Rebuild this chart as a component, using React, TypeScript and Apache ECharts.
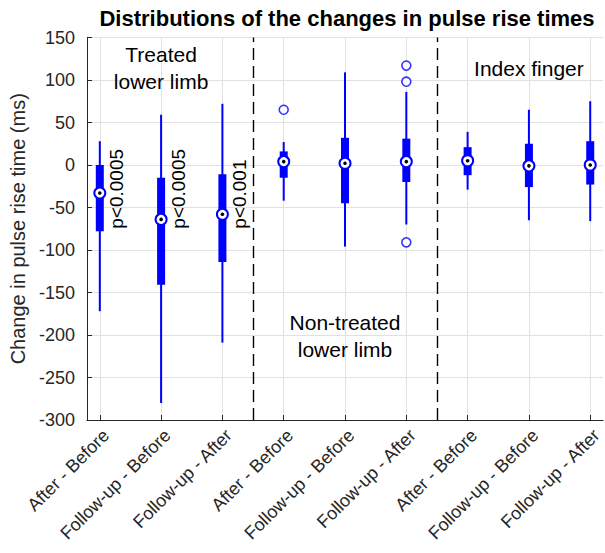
import React, { useEffect, useRef } from "react";
import * as echarts from "echarts";

const categories = [
  "After - Before", "Follow-up - Before", "Follow-up - After",
  "After - Before", "Follow-up - Before", "Follow-up - After",
  "After - Before", "Follow-up - Before", "Follow-up - After",
];
const positions = [1, 2, 3, 4, 5, 6, 7, 8, 9];
const whiskerLow = [-172, -280, -209, -42, -96, -70, -29, -65, -66];
const q1 = [-78, -141, -114, -15, -45, -20, -12, -26, -23];
const medians = [-33, -64, -58, 4, 2, 4, 5, -1, 0];
const q3 = [0, -15, -11, 16, 32, 31, 21, 25, 28];
const whiskerHigh = [28, 59, 72, 27, 109, 86, 39, 65, 75];
const outlierX = [4, 6, 6, 6];
const outlierY = [65, 117, 98, -91];
const groupSeparators = [3.5, 6.5];
const groupLabels = ["Treated\nlower limb", "Non-treated\nlower limb", "Index finger"];
const groupLabelX = [2, 5, 8];
const groupLabelY = [114, -201, 114];
const pLabels = ["p<0.0005", "p<0.0005", "p<0.001"];
const pLabelX = [1.28, 2.28, 3.28];
const pLabelY = [-75, -75, -75];

const BLUE = "#0000ff";
const AX = "#262626";
const GRIDC = "#e1e1e1";
const FONT = "Liberation Sans, Arial, Helvetica, sans-serif";

export default function App() {
  const ref = useRef<HTMLDivElement>(null);
  useEffect(() => {
    if (!ref.current) return;
    const chart = echarts.init(ref.current, null, { renderer: "svg" });
    const boxData = positions.map((p, i) => [p, whiskerLow[i], q1[i], medians[i], q3[i], whiskerHigh[i]]);
    const outData = outlierX.map((x, i) => [x, outlierY[i]]);
    const textData = [
      ...groupLabels.map((t, i) => [groupLabelX[i], groupLabelY[i], 0, i]),
      ...pLabels.map((t, i) => [pLabelX[i], pLabelY[i], 1, i]),
    ];
    chart.setOption({
      animation: false,
      backgroundColor: "#fff",
      textStyle: { fontFamily: FONT },
      grid: { left: 84, right: 0, top: 37.5, bottom: 133, containLabel: false },
      graphic: [
        {
          type: "text",
          x: 347,
          y: 18,
          style: {
            text: "Distributions of the changes in pulse rise times",
            font: `bold 22px ${FONT}`,
            fill: "#000",
            align: "center",
            verticalAlign: "middle",
          },
        },
      ],
      xAxis: {
        type: "value",
        min: 0.79,
        max: 9.21,
        axisLine: { show: true, onZero: false, lineStyle: { color: AX, width: 1 } },
        axisTick: { show: true, inside: true, length: 5, customValues: positions, lineStyle: { color: AX } },
        axisLabel: {
          customValues: positions,
          rotate: 45,
          margin: 6,
          verticalAlign: "top",
          fontSize: 18,
          color: AX,
          fontFamily: FONT,
          formatter: (v: number) => categories[Math.round(v) - 1] ?? "",
        },
        splitLine: { show: true, lineStyle: { color: GRIDC } },
      },
      yAxis: {
        type: "value",
        min: -300,
        max: 150,
        interval: 50,
        axisLine: { show: true, lineStyle: { color: AX, width: 1 } },
        axisTick: { show: true, inside: true, length: 5, lineStyle: { color: AX } },
        axisLabel: { fontSize: 18, color: AX, margin: 12, fontFamily: FONT },
        splitLine: { show: true, lineStyle: { color: GRIDC } },
        name: "Change in pulse rise time (ms)",
        nameLocation: "middle",
        nameGap: 54,
        nameTextStyle: { fontSize: 20, color: AX, fontFamily: FONT },
      },
      series: [
        {
          type: "custom",
          data: boxData,
          encode: { x: 0, y: [1, 2, 3, 4, 5] },
          z: 3,
          renderItem: (params: any, api: any) => {
            const x = api.value(0);
            const lo = api.coord([x, api.value(1)]);
            const b1 = api.coord([x, api.value(2)]);
            const md = api.coord([x, api.value(3)]);
            const b3 = api.coord([x, api.value(4)]);
            const hi = api.coord([x, api.value(5)]);
            const bw = 8;
            return {
              type: "group",
              children: [
                { type: "line", shape: { x1: lo[0], y1: lo[1], x2: hi[0], y2: hi[1] }, style: { stroke: BLUE, lineWidth: 2 } },
                { type: "rect", shape: { x: b3[0] - bw / 2, y: b3[1], width: bw, height: b1[1] - b3[1] }, style: { fill: BLUE } },
                { type: "circle", shape: { cx: md[0], cy: md[1], r: 5.5 }, style: { fill: "#fff", stroke: BLUE, lineWidth: 2 } },
                { type: "circle", shape: { cx: md[0], cy: md[1], r: 1.8 }, style: { fill: "#000" } },
              ],
            };
          },
        },
        {
          type: "scatter",
          data: outData,
          symbol: "circle",
          symbolSize: 9,
          z: 4,
          itemStyle: { color: "#fff", borderColor: BLUE, borderWidth: 1.6 },
          markLine: {
            silent: true,
            symbol: ["none", "none"],
            label: { show: false },
            lineStyle: { color: "#000", type: [12, 6], width: 1.4 },
            data: groupSeparators.map((v) => ({ xAxis: v })),
          },
        },
        {
          type: "custom",
          data: textData,
          encode: { x: 0, y: 1 },
          z: 5,
          clip: false,
          renderItem: (params: any, api: any) => {
            const pt = api.coord([api.value(0), api.value(1)]);
            const kind = api.value(2);
            const idx = api.value(3);
            if (kind === 0) {
              return {
                type: "text",
                x: pt[0],
                y: pt[1],
                style: {
                  text: groupLabels[idx],
                  font: `21px ${FONT}`,
                  fill: "#000",
                  align: "center",
                  verticalAlign: "middle",
                  lineHeight: 27,
                },
              };
            }
            return {
              type: "text",
              x: pt[0],
              y: pt[1],
              rotation: Math.PI / 2,
              style: {
                text: pLabels[idx],
                font: `19px ${FONT}`,
                fill: "#000",
                align: "left",
                verticalAlign: "middle",
              },
            };
          },
        },
      ],
    });
    return () => chart.dispose();
  }, []);
  return <div ref={ref} style={{ position: "absolute", left: 0, top: 0, width: 605, height: 553 }} />;
}
